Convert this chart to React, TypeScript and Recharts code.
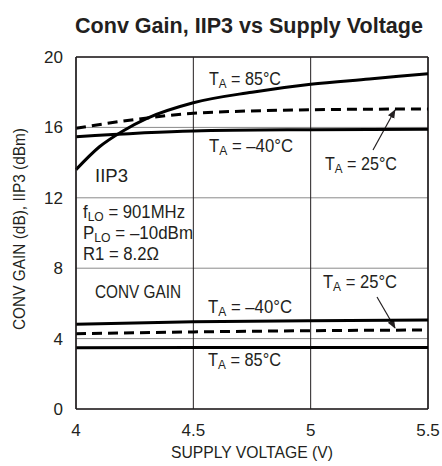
import React from 'react';
import { LineChart, Line, XAxis, YAxis, CartesianGrid, ReferenceLine, Customized } from 'recharts';

const FONT = "'Liberation Sans', Arial, Helvetica, sans-serif";

const xTicks = [4, 4.5, 5, 5.5];
const yTicks = [0, 4, 8, 12, 16, 20];

// IIP3 curves
const iip3HotV = [4, 4.1, 4.2, 4.3, 4.5, 4.75, 5, 5.25, 5.5];
const iip3Hot = [13.6, 14.9, 15.8, 16.5, 17.4, 18.0, 18.45, 18.75, 19.05];
const iip3RoomV = [4, 4.25, 4.5, 5, 5.5];
const iip3Room = [15.95, 16.45, 16.8, 17.0, 17.05];
const iip3ColdV = [4, 4.5, 5, 5.5];
const iip3Cold = [15.47, 15.8, 15.87, 15.9];

// Conversion gain curves
const gainV = [4, 4.5, 5, 5.5];
const gainCold = [4.81, 4.96, 5.02, 5.06];
const gainRoom = [4.28, 4.38, 4.45, 4.49];
const gainHot = [3.48, 3.49, 3.5, 3.5];

const toData = (xs: number[], ys: number[]) => xs.map((v, i) => ({ v, y: ys[i] }));

const series = [
  { key: 'iip3Hot', data: toData(iip3HotV, iip3Hot), dash: undefined, w: 3 },
  { key: 'iip3Room', data: toData(iip3RoomV, iip3Room), dash: '10 6', w: 3 },
  { key: 'iip3Cold', data: toData(iip3ColdV, iip3Cold), dash: undefined, w: 3 },
  { key: 'gainCold', data: toData(gainV, gainCold), dash: undefined, w: 3 },
  { key: 'gainRoom', data: toData(gainV, gainRoom), dash: '10 6', w: 3 },
  { key: 'gainHot', data: toData(gainV, gainHot), dash: undefined, w: 3 },
];

const INK = '#231f20';

const TA = ({ x, y, rest, len }: { x: number; y: number; rest: string; len: number }) => (
  <text x={x} y={y} fontFamily={FONT} fontSize={18} fill={INK} textLength={len} lengthAdjust="spacingAndGlyphs">
    T<tspan fontSize={13} dy={3}>A</tspan>
    <tspan dy={-3}>{rest}</tspan>
  </text>
);

const Sub = ({ x, y, a, b, c, len }: { x: number; y: number; a: string; b: string; c: string; len: number }) => (
  <text x={x} y={y} fontFamily={FONT} fontSize={18} fill={INK} textLength={len} lengthAdjust="spacingAndGlyphs">
    {a}<tspan fontSize={13} dy={3}>{b}</tspan>
    <tspan dy={-3}>{c}</tspan>
  </text>
);

const Annotations = () => (
  <g>
    <defs>
      <marker id="arrowHead" viewBox="0 0 10 10" refX="9" refY="5" markerWidth="9" markerHeight="9" orient="auto-start-reverse" markerUnits="userSpaceOnUse">
        <path d="M0,1 L10,5 L0,9 z" fill={INK} />
      </marker>
    </defs>
    <TA x={209} y={85} rest=" = 85°C" len={72} />
    <TA x={209} y={152} rest=" = –40°C" len={84} />
    <TA x={325} y={170} rest=" = 25°C" len={72} />
    <text x={95} y={182} fontFamily={FONT} fontSize={18} fill={INK} textLength={33} lengthAdjust="spacingAndGlyphs">IIP3</text>
    <Sub x={83} y={218} a="f" b="LO" c=" = 901MHz" len={102} />
    <Sub x={83} y={239} a="P" b="LO" c=" = –10dBm" len={110} />
    <text x={83} y={260} fontFamily={FONT} fontSize={18} fill={INK} textLength={76} lengthAdjust="spacingAndGlyphs">R1 = 8.2Ω</text>
    <text x={95} y={298} fontFamily={FONT} fontSize={18} fill={INK} textLength={86} lengthAdjust="spacingAndGlyphs">CONV GAIN</text>
    <TA x={323} y={288} rest=" = 25°C" len={74} />
    <TA x={208} y={313} rest=" = –40°C" len={84} />
    <TA x={208} y={366} rest=" = 85°C" len={73} />
    <line x1={373} y1={150} x2={395} y2={110} stroke={INK} strokeWidth={1.2} markerEnd="url(#arrowHead)" />
    <line x1={377} y1={297} x2={395} y2={328} stroke={INK} strokeWidth={1.2} markerEnd="url(#arrowHead)" />
    <text x={249} y={33} textAnchor="middle" fontFamily={FONT} fontWeight="bold" fontSize={22} fill={INK} textLength={348} lengthAdjust="spacingAndGlyphs">Conv Gain, IIP3 vs Supply Voltage</text>
    <text x={252} y={458} textAnchor="middle" fontFamily={FONT} fontSize={16} fill={INK} textLength={162} lengthAdjust="spacingAndGlyphs">SUPPLY VOLTAGE (V)</text>
    <text x={0} y={0} transform="translate(25,229) rotate(-90)" textAnchor="middle" fontFamily={FONT} fontSize={16} fill={INK} textLength={202} lengthAdjust="spacingAndGlyphs">CONV GAIN (dB), IIP3 (dBm)</text>
  </g>
);

export default function App() {
  return (
    <div style={{ position: 'absolute', left: 0, top: 0, width: 442, height: 466, background: '#fff' }}>
      <LineChart width={442} height={466} margin={{ top: 57, right: 14, bottom: 0, left: 0 }}>
        <CartesianGrid vertical={false} stroke="#8a8a8a" strokeWidth={1} />
        <CartesianGrid horizontal={false} stroke={INK} strokeWidth={1} />
        <XAxis
          dataKey="v"
          type="number"
          domain={[4, 5.5]}
          ticks={xTicks}
          allowDuplicatedCategory={false}
          height={57}
          tickLine={false}
          tickMargin={9}
          axisLine={{ stroke: INK, strokeWidth: 1.5 }}
          tick={{ fill: INK, fontSize: 17, fontFamily: FONT }}
          tickFormatter={(v: number) => String(v)}
        />
        <YAxis
          type="number"
          domain={[0, 20]}
          ticks={yTicks}
          width={76}
          tickLine={false}
          tickMargin={7}
          axisLine={{ stroke: INK, strokeWidth: 1.5 }}
          tick={{ fill: INK, fontSize: 17, fontFamily: FONT }}
        />
        <ReferenceLine y={20} stroke={INK} strokeWidth={1.5} />
        <ReferenceLine x={5.5} stroke={INK} strokeWidth={1.5} />
        {series.map((s) => (
          <Line
            key={s.key}
            data={s.data}
            dataKey="y"
            type="monotone"
            stroke="#000"
            strokeWidth={s.w}
            strokeDasharray={s.dash}
            dot={false}
            activeDot={false}
            isAnimationActive={false}
          />
        ))}
        <Customized component={<Annotations />} />
      </LineChart>
    </div>
  );
}
